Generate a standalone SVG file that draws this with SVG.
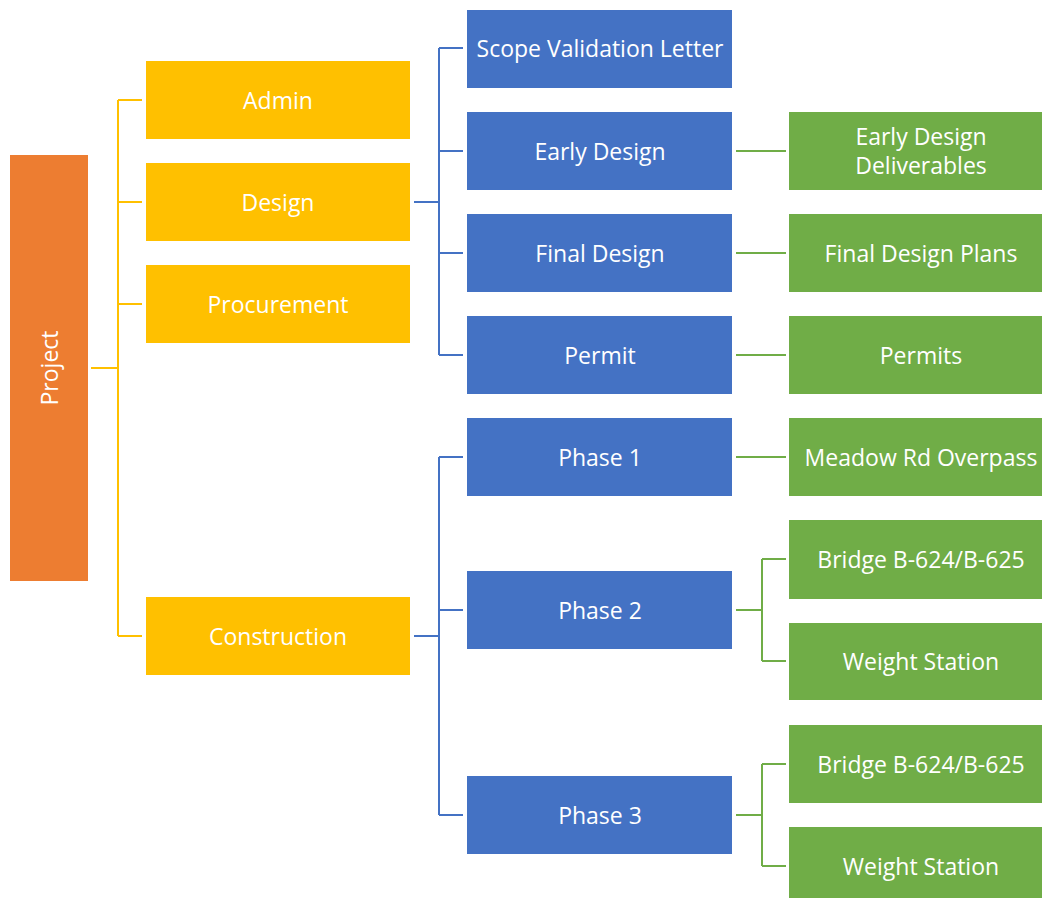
<svg xmlns="http://www.w3.org/2000/svg" width="1042" height="898" viewBox="0 0 1042 898">
<style>
text{font-family:"Open Sans","Noto Sans",sans-serif;font-size:23px;fill:#fff;text-anchor:middle;dominant-baseline:central}
.o{fill:#ED7D31}.y{fill:#FFC000}.b{fill:#4472C4}.g{fill:#70AD47}
.cy{stroke:#FFC000;stroke-width:2;fill:none}
.cb{stroke:#4472C4;stroke-width:2;fill:none}
.cg{stroke:#70AD47;stroke-width:2;fill:none}
</style>
<rect width="1042" height="898" fill="#fff"/>
<g id="connectors">
<path class="cy" d="M91 368H118M118 100V636M118 100H142M118 202H142M118 304H142M118 636H142"/>
<path class="cb" d="M414 202H439M439 48V355M439 48H463M439 151H463M439 253H463M439 355H463"/>
<path class="cb" d="M414 636H439M439 457V815M439 457H463M439 610H463M439 815H463"/>
<path class="cg" d="M736 151H786M736 253H786M736 355H786M736 457H786"/>
<path class="cg" d="M736 610H762M762 559V661M762 559H786M762 661H786"/>
<path class="cg" d="M736 815H762M762 764V866M762 764H786M762 866H786"/>
</g>
<g id="project"><rect class="o" x="10" y="155" width="78" height="426"/><text transform="translate(49 368) rotate(-90)">Project</text></g>
<g id="admin"><rect class="y" x="146" y="61" width="264" height="78"/><text x="278" y="100">Admin</text></g>
<g id="design"><rect class="y" x="146" y="163" width="264" height="78"/><text x="278" y="202">Design</text></g>
<g id="procurement"><rect class="y" x="146" y="265" width="264" height="78"/><text x="278" y="304">Procurement</text></g>
<g id="construction"><rect class="y" x="146" y="597" width="264" height="78"/><text x="278" y="636">Construction</text></g>
<g id="scope"><rect class="b" x="467" y="10" width="265" height="78"/><text x="600" y="48">Scope Validation Letter</text></g>
<g id="early-design"><rect class="b" x="467" y="112" width="265" height="78"/><text x="600" y="151">Early Design</text></g>
<g id="final-design"><rect class="b" x="467" y="214" width="265" height="78"/><text x="600" y="253">Final Design</text></g>
<g id="permit"><rect class="b" x="467" y="316" width="265" height="78"/><text x="600" y="355">Permit</text></g>
<g id="phase1"><rect class="b" x="467" y="418" width="265" height="78"/><text x="600" y="457">Phase 1</text></g>
<g id="phase2"><rect class="b" x="467" y="571" width="265" height="78"/><text x="600" y="610">Phase 2</text></g>
<g id="phase3"><rect class="b" x="467" y="776" width="265" height="78"/><text x="600" y="815">Phase 3</text></g>
<g id="early-deliv"><rect class="g" x="789" y="112" width="253" height="78"/><text x="921" y="136">Early Design</text><text x="921" y="165">Deliverables</text></g>
<g id="final-plans"><rect class="g" x="789" y="214" width="253" height="78"/><text x="921" y="253">Final Design Plans</text></g>
<g id="permits"><rect class="g" x="789" y="316" width="253" height="78"/><text x="921" y="355">Permits</text></g>
<g id="meadow"><rect class="g" x="789" y="418" width="253" height="78"/><text x="921" y="457">Meadow Rd Overpass</text></g>
<g id="bridge2"><rect class="g" x="789" y="520" width="253" height="79"/><text x="921" y="559">Bridge B-624/B-625</text></g>
<g id="weight2"><rect class="g" x="789" y="623" width="253" height="77"/><text x="921" y="661">Weight Station</text></g>
<g id="bridge3"><rect class="g" x="789" y="725" width="253" height="78"/><text x="921" y="764">Bridge B-624/B-625</text></g>
<g id="weight3"><rect class="g" x="789" y="827" width="253" height="71"/><text x="921" y="866">Weight Station</text></g>
</svg>
